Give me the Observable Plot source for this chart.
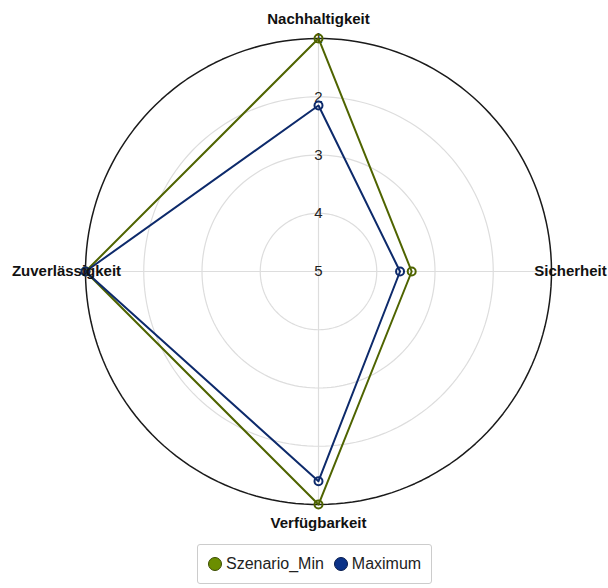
<!DOCTYPE html>
<html>
<head>
<meta charset="utf-8">
<script src="https://cdn.jsdelivr.net/npm/d3@7"></script>
<script src="https://cdn.jsdelivr.net/npm/@observablehq/plot@0.6"></script>
<style>
  body { margin: 0; background: #fff; font-family: "Liberation Sans", Arial, sans-serif; }
  #legend { display: inline-flex; align-items: center; gap: 10px; border: 1px solid #ccc; border-radius: 3px;
            padding: 10px 10px 10px 10px; margin: 4px 0 0 197px; font-size: 16px; color: #222; }
  .item { display: inline-flex; align-items: center; gap: 4px; }
  .sw { width: 12px; height: 12px; border-radius: 50%; border: 1.5px solid; box-sizing: content-box; }
</style>
</head>
<body>
<div id="chart"></div>
<div id="legend"></div>
<script>
const axes = ["Nachhaltigkeit", "Sicherheit", "Verfügbarkeit", "Zuverlässigkeit"];
const axisAngles = [180, 90, 0, -90];
const seriesNames = ["Szenario_Min", "Maximum"];
const szenarioMin = [1, 3.4, 1, 1];
const maximum = [2.15, 3.6, 1.4, 1];
const ringTicks = [1, 2, 3, 4, 5];
const lineColors = ["#4f6400", "#0d2a6b"];
const legendFills = ["#6b8e00", "#0b3288"];
const legendStrokes = ["#3b4b00", "#061b4d"];

const lon = d3.scaleOrdinal(axes, axisAngles);
const rad = d3.scaleLinear([5, 1], [0, 0.4]);
const lat = (v) => 90 - rad(v);
const labelR = 0.4 * 252 / 233;

const points = [];
[szenarioMin, maximum].forEach((vals, si) => {
  axes.forEach((a, i) => points.push({series: seriesNames[si], key: a, value: vals[i]}));
});

const chart = Plot.plot({
  width: 608,
  height: 540,
  marginLeft: 85,
  marginRight: 57,
  marginTop: 38,
  marginBottom: 36,
  style: {fontFamily: "'Liberation Sans', Arial, sans-serif", background: "#fff", overflow: "visible"},
  projection: {
    type: "azimuthal-equidistant",
    rotate: [0, -90],
    clip: false,
    domain: d3.geoCircle().center([0, 90]).radius(rad(1))()
  },
  color: {domain: seriesNames, range: lineColors},
  marks: [
    Plot.geo([2, 3, 4], {
      geometry: (v) => d3.geoCircle().center([0, 90]).radius(rad(v))(),
      stroke: "#dddddd", fill: "none", strokeWidth: 1.2
    }),
    Plot.link(axes, {
      x1: (d) => lon(d), y1: lat(1), x2: 0, y2: 90,
      stroke: "#dddddd", strokeWidth: 1.2
    }),
    Plot.geo([1], {
      geometry: (v) => d3.geoCircle().center([0, 90]).radius(rad(v))(),
      stroke: "#1a1a1a", fill: "none", strokeWidth: 1.5
    }),
    Plot.text(ringTicks, {
      x: 180, y: (d) => lat(d), text: (d) => String(d),
      fontSize: 15, fill: "#222", textAnchor: "middle"
    }),
    Plot.line(points, {
      x: (d) => lon(d.key), y: (d) => lat(d.value), z: "series",
      stroke: "series", strokeWidth: 2, curve: "linear-closed"
    }),
    Plot.dot(points, {
      x: (d) => lon(d.key), y: (d) => lat(d.value),
      stroke: "series", fill: "none", r: 4, strokeWidth: 2
    }),
    Plot.text(axes, {
      x: (d) => lon(d), y: 90 - labelR, text: (d) => d,
      fontSize: 15, fontWeight: "bold", fill: "#111", textAnchor: "middle"
    })
  ]
});
document.getElementById("chart").appendChild(chart);

const legend = document.getElementById("legend");
seriesNames.forEach((name, i) => {
  const item = document.createElement("span");
  item.className = "item";
  const sw = document.createElement("span");
  sw.className = "sw";
  sw.style.background = legendFills[i];
  sw.style.borderColor = legendStrokes[i];
  const t = document.createElement("span");
  t.textContent = name;
  item.appendChild(sw); item.appendChild(t);
  legend.appendChild(item);
});
</script>
</body>
</html>
